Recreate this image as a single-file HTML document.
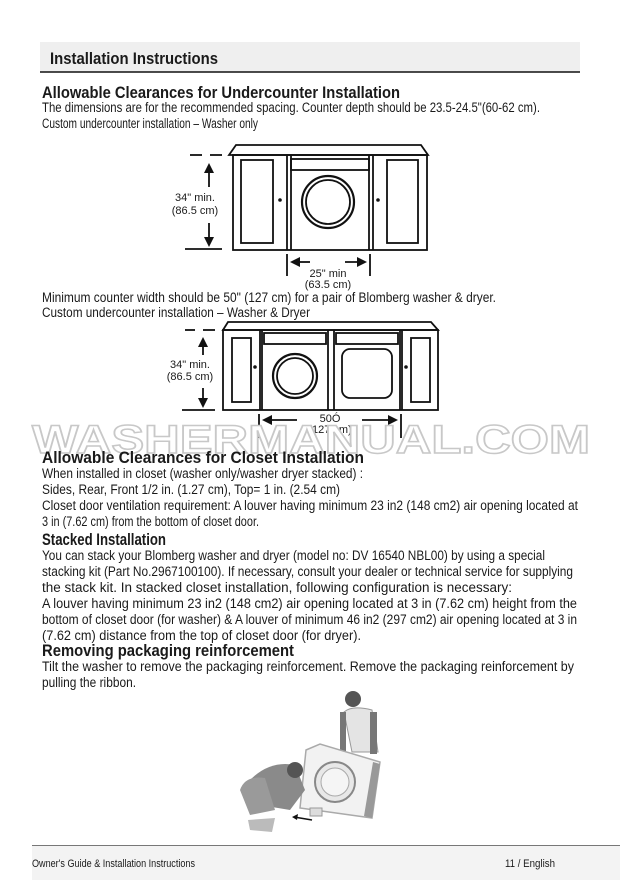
<!DOCTYPE html>
<html><head><meta charset="utf-8"><style>
html,body{margin:0;padding:0;background:#fff;width:620px;height:880px;overflow:hidden}
svg{display:block}
text{font-family:"Liberation Sans Narrow","Liberation Sans",sans-serif;fill:#1a1a1a}
.b{font-size:13.5px}
.h{font-size:17px;font-weight:bold}
.d{font-size:11px;font-family:"Liberation Sans",sans-serif}
</style></head><body>
<svg width="620" height="880" viewBox="0 0 620 880" xmlns="http://www.w3.org/2000/svg">
<!-- header -->
<rect x="40" y="42" width="540" height="30" fill="#efefef"/>
<line x1="40" y1="72" x2="580" y2="72" stroke="#111" stroke-width="1.5"/>
<text x="50" y="64" class="h" textLength="168" lengthAdjust="spacingAndGlyphs">Installation Instructions</text>

<text x="42" y="98" class="h" textLength="358" lengthAdjust="spacingAndGlyphs">Allowable Clearances for Undercounter Installation</text>
<text x="42" y="112" class="b" textLength="498" lengthAdjust="spacingAndGlyphs">The dimensions are for the recommended spacing. Counter depth should be 23.5-24.5"(60-62 cm).</text>
<text x="42" y="128" class="b" textLength="216" lengthAdjust="spacingAndGlyphs">Custom undercounter installation – Washer only</text>

<!-- diagram 1 -->
<g fill="none" stroke="#111" stroke-width="1.8">
<polygon points="229,155 236,145 421,145 428,155"/>
<rect x="233" y="155" width="194" height="95"/>
<line x1="287" y1="155" x2="287" y2="250"/><line x1="291" y1="155" x2="291" y2="250"/>
<line x1="369" y1="155" x2="369" y2="250"/><line x1="373" y1="155" x2="373" y2="250"/>
<rect x="241" y="160" width="32" height="83"/>
<rect x="387" y="160" width="31" height="83"/>
<rect x="291" y="159" width="78" height="11"/>
<circle cx="328" cy="202" r="26" stroke-width="2.2"/>
<circle cx="328" cy="202" r="22"/>
<line x1="190" y1="155" x2="202" y2="155"/><line x1="210" y1="155" x2="222" y2="155"/>
<line x1="185" y1="249" x2="222" y2="249"/>
<line x1="209" y1="170" x2="209" y2="187"/><line x1="209" y1="223" x2="209" y2="240"/>
<line x1="287" y1="254" x2="287" y2="276"/><line x1="370" y1="254" x2="370" y2="276"/>
<line x1="295" y1="262" x2="310" y2="262"/><line x1="345" y1="262" x2="362" y2="262"/>
</g>
<g fill="#111">
<polygon points="209,163 204,173 214,173"/><polygon points="209,247 204,237 214,237"/>
<polygon points="290,262 300,257 300,267"/><polygon points="367,262 357,257 357,267"/>
<circle cx="280" cy="200" r="1.8"/><circle cx="378" cy="200" r="1.8"/>
</g>
<text x="195" y="201" class="d" text-anchor="middle">34" min.</text>
<text x="195" y="214" class="d" text-anchor="middle">(86.5 cm)</text>
<text x="328" y="277" class="d" text-anchor="middle">25" min</text>
<text x="328" y="288" class="d" text-anchor="middle">(63.5 cm)</text>

<text x="42" y="302" class="b" textLength="454" lengthAdjust="spacingAndGlyphs">Minimum counter width should be 50" (127 cm) for a pair of Blomberg washer &amp; dryer.</text>
<text x="42" y="317" class="b" textLength="268" lengthAdjust="spacingAndGlyphs">Custom undercounter installation – Washer &amp; Dryer</text>

<!-- diagram 2 -->
<g fill="none" stroke="#111" stroke-width="1.8">
<polygon points="223,330 228,322 431,322 438,330"/>
<rect x="223" y="330" width="215" height="80"/>
<line x1="260" y1="330" x2="260" y2="410"/><line x1="262" y1="330" x2="262" y2="410"/>
<line x1="328" y1="330" x2="328" y2="410"/><line x1="334" y1="330" x2="334" y2="410"/>
<line x1="400" y1="330" x2="400" y2="410"/><line x1="402" y1="330" x2="402" y2="410"/>
<rect x="232" y="338" width="19" height="64"/>
<rect x="411" y="338" width="19" height="64"/>
<rect x="264" y="333" width="62" height="11"/>
<rect x="336" y="333" width="62" height="11"/>
<circle cx="295" cy="376" r="22" stroke-width="2.2"/>
<circle cx="295" cy="376" r="18"/>
<rect x="342" y="349" width="50" height="49" rx="8"/>
<line x1="185" y1="330" x2="195" y2="330"/><line x1="203" y1="330" x2="215" y2="330"/>
<line x1="182" y1="410" x2="215" y2="410"/>
<line x1="203" y1="343" x2="203" y2="355"/><line x1="203" y1="388" x2="203" y2="401"/>
<line x1="259" y1="414" x2="259" y2="438"/><line x1="401" y1="414" x2="401" y2="438"/>
<line x1="268" y1="420" x2="297" y2="420"/><line x1="362" y1="420" x2="392" y2="420"/>
</g>
<g fill="#111">
<polygon points="203,337 198,347 208,347"/><polygon points="203,408 198,398 208,398"/>
<polygon points="262,420 272,415 272,425"/><polygon points="398,420 388,415 388,425"/>
<circle cx="255" cy="367" r="1.8"/><circle cx="406" cy="367" r="1.8"/>
</g>
<text x="190" y="368" class="d" text-anchor="middle">34" min.</text>
<text x="190" y="380" class="d" text-anchor="middle">(86.5 cm)</text>
<text x="330" y="422" class="d" text-anchor="middle">50Ó</text>
<text x="330" y="433" class="d" text-anchor="middle">(127 cm)</text>

<!-- watermark -->
<text x="32" y="453" textLength="558" lengthAdjust="spacingAndGlyphs" style="font-family:'Liberation Sans',sans-serif;font-size:40px;font-weight:bold;fill:#fff;stroke:#c8c8c8;stroke-width:1.5">WASHERMANUAL.COM</text>

<text x="42" y="463" class="h" textLength="322" lengthAdjust="spacingAndGlyphs">Allowable Clearances for Closet Installation</text>
<text x="42" y="478" class="b" textLength="321" lengthAdjust="spacingAndGlyphs">When installed in closet (washer only/washer dryer stacked) :</text>
<text x="42" y="494" class="b" textLength="298" lengthAdjust="spacingAndGlyphs">Sides, Rear, Front 1/2 in. (1.27 cm), Top= 1 in. (2.54 cm)</text>
<text x="42" y="510" class="b" textLength="536" lengthAdjust="spacingAndGlyphs">Closet door ventilation requirement: A louver having minimum 23 in2 (148 cm2) air opening located at</text>
<text x="42" y="526" class="b" textLength="217" lengthAdjust="spacingAndGlyphs">3 in (7.62 cm) from the bottom of closet door.</text>

<text x="42" y="545" class="h" textLength="124" lengthAdjust="spacingAndGlyphs">Stacked Installation</text>
<text x="42" y="560" class="b" textLength="503" lengthAdjust="spacingAndGlyphs">You can stack your Blomberg washer and dryer (model no: DV 16540 NBL00) by using a special</text>
<text x="42" y="576" class="b" textLength="531" lengthAdjust="spacingAndGlyphs">stacking kit (Part No.2967100100). If necessary, consult your dealer or technical service for supplying</text>
<text x="42" y="592" class="b" textLength="470" lengthAdjust="spacingAndGlyphs">the stack kit. In stacked closet installation, following configuration is necessary:</text>
<text x="42" y="608" class="b" textLength="535" lengthAdjust="spacingAndGlyphs">A louver having minimum 23 in2 (148 cm2) air opening located at 3 in (7.62 cm) height from the</text>
<text x="42" y="624" class="b" textLength="535" lengthAdjust="spacingAndGlyphs">bottom of closet door (for washer) &amp; A louver of minimum 46 in2 (297 cm2) air opening located at 3 in</text>
<text x="42" y="640" class="b" textLength="319" lengthAdjust="spacingAndGlyphs">(7.62 cm) distance from the top of closet door (for dryer).</text>

<text x="42" y="656" class="h" textLength="252" lengthAdjust="spacingAndGlyphs">Removing packaging reinforcement</text>
<text x="42" y="671" class="b" textLength="532" lengthAdjust="spacingAndGlyphs">Tilt the washer to remove the packaging reinforcement. Remove the packaging reinforcement by</text>
<text x="42" y="687" class="b" textLength="94" lengthAdjust="spacingAndGlyphs">pulling the ribbon.</text>

<!-- illustration -->
<g>
<circle cx="353" cy="699" r="8" fill="#555"/>
<path d="M344 712 Q352 705 372 710 L378 752 L352 752 Z" fill="#e4e4e4" stroke="#999"/>
<rect x="340" y="712" width="6" height="40" fill="#777"/>
<rect x="370" y="712" width="7" height="42" fill="#777"/>
<path d="M306 750 L320 744 L380 762 L372 818 L300 808 Z" fill="#f2f2f2" stroke="#aaa" stroke-width="1.5"/>
<circle cx="335" cy="782" r="20" fill="#e8e8e8" stroke="#888" stroke-width="2"/>
<circle cx="335" cy="782" r="14" fill="#f5f5f5" stroke="#aaa"/>
<path d="M373 762 L380 764 L372 818 L364 816 Z" fill="#999"/>
<path d="M250 780 Q270 760 295 765 L305 790 L290 810 L260 805 Z" fill="#8a8a8a"/>
<circle cx="295" cy="770" r="8" fill="#555"/>
<path d="M240 790 Q245 775 265 778 L275 810 L250 815 Z" fill="#9a9a9a"/>
<path d="M248 820 L275 818 L272 832 L250 830 Z" fill="#bbb"/>
<rect x="310" y="808" width="12" height="8" fill="#ddd" stroke="#999"/>
<line x1="294" y1="817" x2="312" y2="820" stroke="#111" stroke-width="1.5"/>
<polygon points="292,817 298,814 297,820" fill="#111"/>
</g>

<!-- footer -->
<rect x="32" y="846" width="588" height="34" fill="#f3f3f3"/>
<line x1="32" y1="845.5" x2="620" y2="845.5" stroke="#777" stroke-width="1"/>
<text x="32" y="867" style="font-size:11px" textLength="163" lengthAdjust="spacingAndGlyphs">Owner's Guide &amp; Installation Instructions</text>
<text x="505" y="867" style="font-size:11px" textLength="50" lengthAdjust="spacingAndGlyphs">11 / English</text>
</svg>
</body></html>
